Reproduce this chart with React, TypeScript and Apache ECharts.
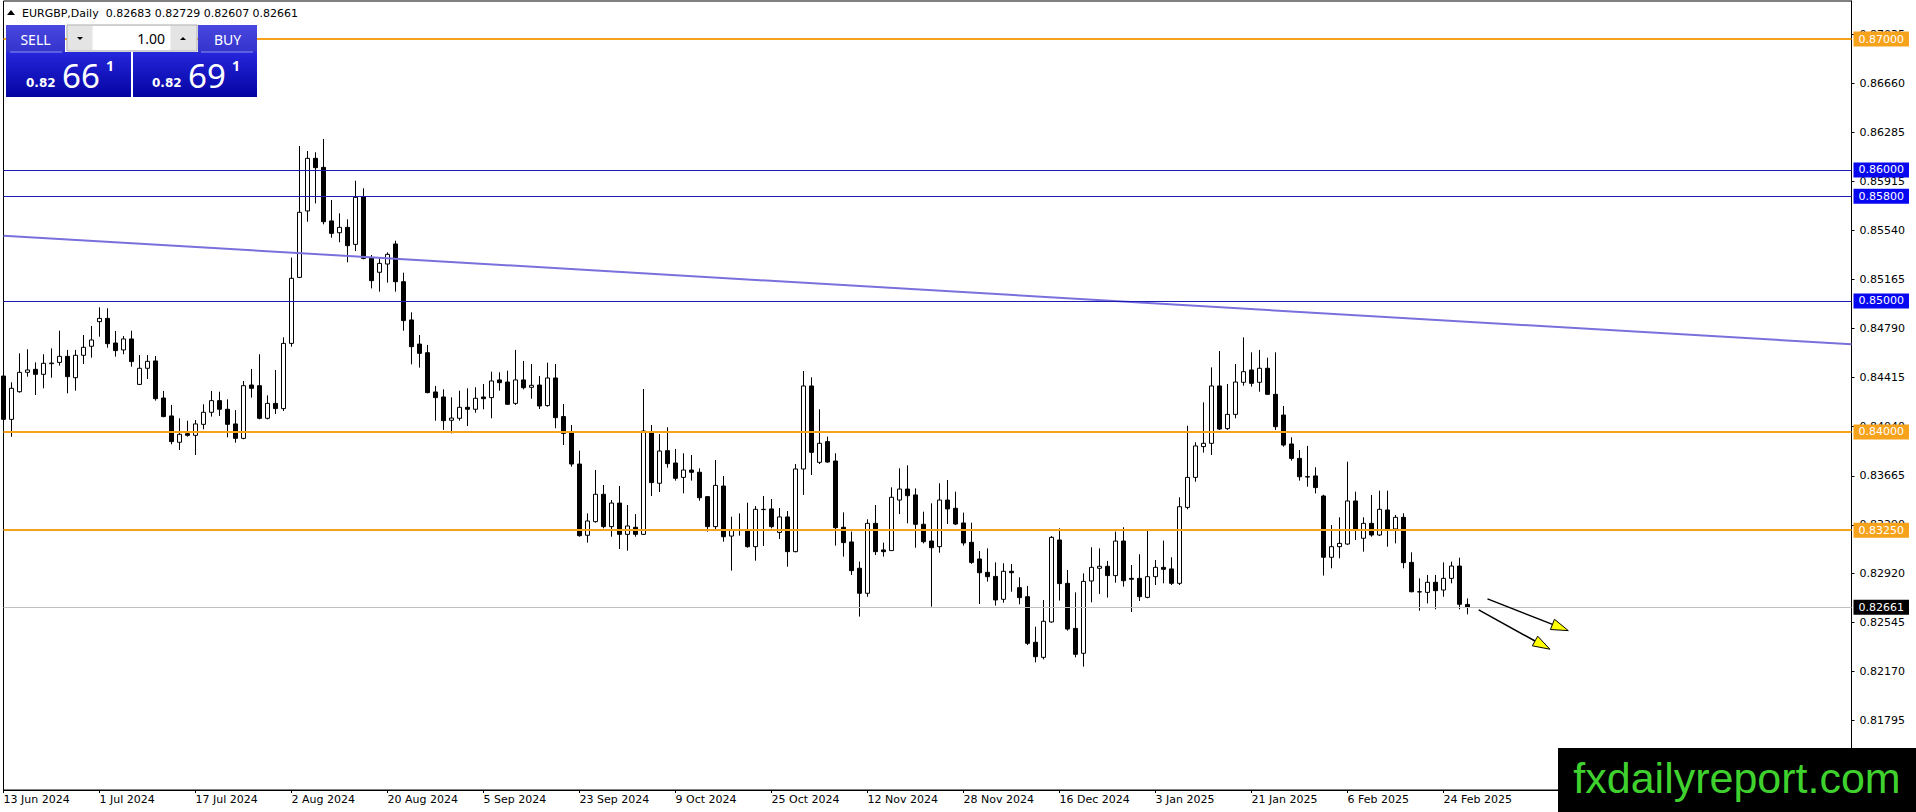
import React, { useEffect, useRef } from "react";
import * as echarts from "echarts";

// ---------------- data ----------------
const SYMBOL = "EURGBP";
const TIMEFRAME = "Daily";
const FIRST_TRADING_DAY = "2024-06-13";
const MARKET_HOLIDAYS = ["2024-12-25", "2025-01-01"];

const open = [
  0.84427, 0.84096, 0.84307, 0.84455, 0.84478, 0.8444, 0.84521, 0.84531, 0.84577, 0.84414, 0.84585, 0.84654,
  0.84842, 0.84867, 0.84679, 0.84626, 0.8471, 0.84363, 0.84486, 0.84542, 0.84259, 0.84122, 0.83921, 0.83987,
  0.83974, 0.84058, 0.8415, 0.84239, 0.84173, 0.84061, 0.83951, 0.84358, 0.84353, 0.84104, 0.84218, 0.84178,
  0.84676, 0.8518, 0.85687, 0.86089, 0.8602, 0.85611, 0.85521, 0.85562, 0.85432, 0.85796, 0.85331, 0.85219,
  0.85282, 0.85435, 0.85147, 0.84855, 0.84671, 0.84605, 0.84305, 0.84267, 0.84089, 0.84104, 0.84188, 0.84173,
  0.84267, 0.84262, 0.84397, 0.84381, 0.84218, 0.84397, 0.84341, 0.84358, 0.84201, 0.84412, 0.84117, 0.83994,
  0.83755, 0.83211, 0.83315, 0.83524, 0.83277, 0.83457, 0.83218, 0.83272, 0.83218, 0.84002, 0.83608, 0.83857,
  0.83763, 0.83653, 0.83709, 0.83692, 0.83506, 0.83277, 0.83587, 0.83205, 0.83249, 0.83244, 0.83124, 0.83407,
  0.83412, 0.83233, 0.83351, 0.83086, 0.83717, 0.84351, 0.83768, 0.83926, 0.83778, 0.83272, 0.8316, 0.82959,
  0.82768, 0.83302, 0.83099, 0.83094, 0.8348, 0.83564, 0.83519, 0.83295, 0.83167, 0.83124, 0.8348, 0.83417,
  0.83305, 0.83157, 0.8303, 0.82928, 0.82897, 0.82722, 0.82936, 0.82811, 0.82742, 0.82394, 0.82279, 0.82549,
  0.83175, 0.82844, 0.825, 0.8231, 0.82862, 0.82959, 0.82974, 0.82903, 0.83167, 0.82882, 0.82882, 0.82737,
  0.82895, 0.82966, 0.82954, 0.82844, 0.83424, 0.83653, 0.83888, 0.83913, 0.84351, 0.84025, 0.84134, 0.84379,
  0.84473, 0.84379, 0.84486, 0.84287, 0.84129, 0.83908, 0.83798, 0.83658, 0.83664, 0.83511, 0.83043, 0.83124,
  0.83144, 0.83473, 0.83188, 0.83302, 0.83213, 0.83404, 0.83259, 0.83348, 0.83004, 0.82778, 0.82775, 0.82852,
  0.82793, 0.82882, 0.82976, 0.82683,
];
const high = [
  0.84562, 0.84379, 0.846, 0.84631, 0.84531, 0.84593, 0.84638, 0.84773, 0.84626, 0.84626, 0.8474, 0.84809,
  0.84951, 0.84944, 0.84771, 0.84732, 0.84773, 0.84587, 0.84587, 0.8458, 0.84313, 0.84206, 0.84104, 0.84086,
  0.84091, 0.84211, 0.84313, 0.84307, 0.84249, 0.84167, 0.84389, 0.84481, 0.84593, 0.84279, 0.84473, 0.84722,
  0.85331, 0.86183, 0.86145, 0.86135, 0.86237, 0.85771, 0.85669, 0.85623, 0.85918, 0.8586, 0.85351, 0.85325,
  0.85371, 0.8546, 0.85216, 0.84913, 0.8474, 0.84664, 0.84351, 0.84325, 0.84264, 0.84315, 0.84333, 0.84341,
  0.84366, 0.8446, 0.84455, 0.84468, 0.84626, 0.84542, 0.84519, 0.84427, 0.84529, 0.84519, 0.84213, 0.84053,
  0.83857, 0.83378, 0.83709, 0.83595, 0.8348, 0.83587, 0.83442, 0.83373, 0.84328, 0.84053, 0.83984, 0.84035,
  0.8387, 0.83837, 0.83824, 0.83722, 0.83511, 0.83786, 0.83664, 0.83353, 0.83378, 0.8346, 0.83434, 0.83511,
  0.83488, 0.83419, 0.83396, 0.83755, 0.84465, 0.84417, 0.84173, 0.83964, 0.83837, 0.83386, 0.83239, 0.8301,
  0.83333, 0.83442, 0.83155, 0.83577, 0.83722, 0.83745, 0.83569, 0.83391, 0.83455, 0.83608, 0.83633, 0.83544,
  0.83384, 0.83307, 0.83091, 0.83111, 0.83004, 0.82997, 0.82992, 0.8289, 0.82824, 0.82513, 0.82717, 0.83205,
  0.83264, 0.82946, 0.82775, 0.8292, 0.83119, 0.83111, 0.83015, 0.83239, 0.83272, 0.82984, 0.83066, 0.83244,
  0.83022, 0.8317, 0.83043, 0.83501, 0.84048, 0.83921, 0.84226, 0.84493, 0.84618, 0.84366, 0.84519, 0.84722,
  0.84608, 0.84626, 0.84567, 0.84608, 0.84198, 0.83959, 0.83862, 0.83893, 0.8373, 0.83521, 0.83289, 0.83348,
  0.83773, 0.83544, 0.83348, 0.83519, 0.83552, 0.83552, 0.83366, 0.83379, 0.83081, 0.82882, 0.82908, 0.82908,
  0.83004, 0.8301, 0.8304, 0.82729,
];
const low = [
  0.84091, 0.83964, 0.843, 0.84422, 0.84282, 0.84333, 0.84414, 0.84506, 0.84295, 0.84315, 0.84519, 0.84567,
  0.84727, 0.84643, 0.84575, 0.84593, 0.84498, 0.84358, 0.84404, 0.84239, 0.84112, 0.83905, 0.83862, 0.83964,
  0.83824, 0.8402, 0.84117, 0.84122, 0.83959, 0.83918, 0.83944, 0.84262, 0.84096, 0.84096, 0.84137, 0.8416,
  0.84651, 0.85178, 0.85605, 0.85745, 0.85585, 0.85483, 0.85448, 0.85295, 0.85381, 0.85318, 0.85096, 0.85071,
  0.8514, 0.85071, 0.84773, 0.84516, 0.84491, 0.84295, 0.84086, 0.84015, 0.83989, 0.84086, 0.84045, 0.84147,
  0.84173, 0.84104, 0.84315, 0.84206, 0.84206, 0.84325, 0.84254, 0.84175, 0.84193, 0.84028, 0.839, 0.83735,
  0.832, 0.83155, 0.83307, 0.83264, 0.832, 0.83106, 0.83093, 0.832, 0.83213, 0.83511, 0.83541, 0.83727,
  0.83628, 0.83531, 0.83628, 0.83475, 0.83239, 0.83256, 0.83162, 0.82941, 0.83208, 0.83116, 0.83017, 0.83129,
  0.83264, 0.83183, 0.82971, 0.83081, 0.83519, 0.83671, 0.83755, 0.83765, 0.83132, 0.83048, 0.82908, 0.8259,
  0.82742, 0.8306, 0.83048, 0.83094, 0.83373, 0.83302, 0.83116, 0.83149, 0.82666, 0.83078, 0.83297, 0.83289,
  0.83132, 0.82992, 0.82686, 0.82857, 0.82674, 0.82696, 0.8278, 0.82684, 0.82373, 0.82241, 0.82264, 0.82544,
  0.82712, 0.82483, 0.82279, 0.82208, 0.82699, 0.82763, 0.82735, 0.82849, 0.82819, 0.82625, 0.82709, 0.8273,
  0.82831, 0.82844, 0.82831, 0.82831, 0.83409, 0.8362, 0.83842, 0.83824, 0.84015, 0.84015, 0.84104, 0.84353,
  0.84346, 0.84307, 0.84282, 0.84015, 0.83888, 0.83781, 0.83628, 0.83582, 0.83531, 0.82903, 0.82959, 0.83035,
  0.83137, 0.83175, 0.83086, 0.832, 0.83205, 0.83124, 0.83149, 0.82959, 0.82775, 0.82635, 0.82691, 0.82646,
  0.82742, 0.82844, 0.82646, 0.82607,
];
const close = [
  0.84096, 0.84333, 0.84455, 0.84473, 0.8444, 0.84524, 0.84526, 0.84577, 0.84422, 0.84585, 0.84646, 0.84702,
  0.84867, 0.84674, 0.84621, 0.8471, 0.84537, 0.84486, 0.84539, 0.84254, 0.84117, 0.83926, 0.83982, 0.83974,
  0.84061, 0.8415, 0.84239, 0.84173, 0.84058, 0.83951, 0.84353, 0.84333, 0.84104, 0.84218, 0.84178, 0.84676,
  0.85173, 0.85677, 0.86089, 0.86018, 0.85605, 0.85516, 0.85562, 0.85422, 0.85791, 0.85325, 0.85155, 0.85287,
  0.85356, 0.85147, 0.8485, 0.84651, 0.846, 0.843, 0.84262, 0.84086, 0.84106, 0.84188, 0.84173, 0.84257,
  0.84254, 0.84389, 0.84376, 0.84211, 0.84397, 0.84338, 0.84356, 0.84198, 0.84412, 0.84109, 0.83989, 0.83755,
  0.83208, 0.8332, 0.83524, 0.83277, 0.83457, 0.83218, 0.83282, 0.83218, 0.84007, 0.83613, 0.83854, 0.83758,
  0.83646, 0.83709, 0.83692, 0.83498, 0.83277, 0.83592, 0.832, 0.83251, 0.83251, 0.83124, 0.83409, 0.83409,
  0.83277, 0.83351, 0.83086, 0.83717, 0.84351, 0.83844, 0.83913, 0.8377, 0.83269, 0.83155, 0.82941, 0.82768,
  0.83302, 0.83086, 0.83086, 0.83501, 0.83564, 0.83513, 0.83295, 0.83162, 0.83116, 0.8348, 0.83412, 0.83297,
  0.83152, 0.83004, 0.82925, 0.82895, 0.82717, 0.82936, 0.82925, 0.82735, 0.82386, 0.82284, 0.82554, 0.83195,
  0.82842, 0.82495, 0.82302, 0.82859, 0.82966, 0.82974, 0.82903, 0.83167, 0.82864, 0.82875, 0.82742, 0.82895,
  0.82966, 0.82951, 0.82844, 0.83429, 0.83653, 0.83893, 0.83913, 0.84351, 0.84022, 0.84134, 0.84381, 0.8446,
  0.84371, 0.84486, 0.84287, 0.8404, 0.839, 0.83798, 0.83658, 0.83656, 0.83575, 0.83043, 0.83124, 0.83149,
  0.83473, 0.83259, 0.83302, 0.83213, 0.83409, 0.83259, 0.83348, 0.83002, 0.8278, 0.8278, 0.82852, 0.82788,
  0.82882, 0.82976, 0.82684, 0.82661,
];

const bidPrice = 0.82661;
const askPrice = 0.82691;
const lotSize = "1.00";

const yTickValues = [
  0.81795, 0.8217, 0.82545, 0.8292, 0.8329, 0.83665, 0.8404, 0.84415, 0.8479, 0.85165, 0.8554, 0.85915, 0.86285,
  0.8666, 0.87035,
];
const orangeLevels = [0.87, 0.84, 0.8325];
const blueLevels = [0.86, 0.858, 0.85];
const trendLinePoints = [
  [0, 0.85498],
  [231, 0.84669],
];
const arrowSegments = [
  { from: [185.5, 0.82725], to: [195.6, 0.82483] },
  { from: [184.4, 0.82641], to: [193.3, 0.82341] },
];
const watermarkText = "fxdailyreport.com";

// ---------------- layout / style ----------------
const W = 1916;
const H = 812;
const GRID_LEFT = 3.5;
const GRID_TOP = 1;
const GRID_WIDTH = 1848;
const GRID_HEIGHT = 789;
const SLOTS = 232;
const Y_MIN = 0.812661;
const Y_MAX = 0.872902;
const LABEL_EVERY = 12;
const FONT = '"DejaVu Sans", Verdana, sans-serif';
const PANEL_FONT = '"Noto Sans", "Open Sans", sans-serif';
const ORANGE = "#f7a21b";
const BLUE_LINE = "#1c1cb4";
const BLUE_LABEL = "#0808f0";
const TREND = "#7a70dc";

const MONTHS = ["Jan", "Feb", "Mar", "Apr", "May", "Jun", "Jul", "Aug", "Sep", "Oct", "Nov", "Dec"];

function tradingDays(first: string, count: number, holidays: string[]) {
  const out: string[] = [];
  const d = new Date(first + "T00:00:00Z");
  while (out.length < count) {
    const wd = d.getUTCDay();
    const iso = d.toISOString().slice(0, 10);
    if (wd !== 0 && wd !== 6 && holidays.indexOf(iso) < 0) out.push(iso);
    d.setUTCDate(d.getUTCDate() + 1);
  }
  return out;
}

const dates = tradingDays(FIRST_TRADING_DAY, open.length, MARKET_HOLIDAYS);
const categories = [...dates, ...Array.from({ length: SLOTS - dates.length }, (_, i) => `future-${i + 1}`)];
const fmtDate = (iso: string) => {
  if (iso.indexOf("future") === 0) return "";
  const [y, m, d] = iso.split("-");
  return `${+d} ${MONTHS[+m - 1]} ${y}`;
};
const showLabel = (index: number) => index % LABEL_EVERY === 0 && index < dates.length;

const levelLabel = (value: number, bg: string) => ({
  show: true,
  position: "end",
  formatter: value.toFixed(5),
  color: "#fff",
  backgroundColor: bg,
  padding: [1, 5, 1, 5],
  fontFamily: FONT,
  fontSize: 11,
  lineHeight: 13,
  distance: 2,
});

function buildOption() {
  const last = close.length - 1;
  const candles = open.map((o, i) => [o, close[i], low[i], high[i]]);
  return {
    animation: false,
    backgroundColor: "#fff",
    textStyle: { fontFamily: FONT },
    grid: {
      left: GRID_LEFT,
      top: GRID_TOP,
      width: GRID_WIDTH,
      height: GRID_HEIGHT,
      show: true,
      borderColor: "#000",
      borderWidth: 1,
      backgroundColor: "#fff",
    },
    xAxis: {
      type: "category",
      data: categories,
      boundaryGap: false,
      axisLine: { show: true, lineStyle: { color: "#000", width: 1 } },
      axisTick: { show: true, interval: showLabel, length: 3, lineStyle: { color: "#000" } },
      axisLabel: {
        interval: showLabel,
        formatter: (v: string) => fmtDate(v),
        align: "left",
        margin: 4,
        color: "#000",
        fontFamily: FONT,
        fontSize: 11,
      },
      splitLine: { show: false },
    },
    yAxis: {
      type: "value",
      position: "right",
      min: Y_MIN,
      max: Y_MAX,
      axisLine: { show: true, lineStyle: { color: "#000", width: 1 } },
      axisTick: { show: true, length: 3, customValues: yTickValues, lineStyle: { color: "#000" } },
      axisLabel: {
        customValues: yTickValues,
        formatter: (v: number) => v.toFixed(5),
        margin: 8,
        color: "#000",
        fontFamily: FONT,
        fontSize: 11,
      },
      splitLine: { show: false },
    },
    series: [
      {
        type: "candlestick",
        data: candles,
        barWidth: 4,
        clip: true,
        itemStyle: {
          color: "#ffffff",
          color0: "#000000",
          borderColor: "#000000",
          borderColor0: "#000000",
          borderWidth: 1,
        },
        markLine: {
          silent: true,
          animation: false,
          precision: 5,
          symbol: ["none", "none"],
          data: [
            [
              { coord: trendLinePoints[0], lineStyle: { color: TREND, width: 2, type: "solid" }, label: { show: false } },
              { coord: trendLinePoints[1] },
            ],
            ...blueLevels.map((v) => ({
              yAxis: v,
              lineStyle: { color: BLUE_LINE, width: 1, type: "solid" },
              label: levelLabel(v, BLUE_LABEL),
            })),
            ...orangeLevels.map((v) => ({
              yAxis: v,
              lineStyle: { color: ORANGE, width: 2, type: "solid" },
              label: levelLabel(v, ORANGE),
            })),
            {
              yAxis: close[last],
              lineStyle: { color: "#c0c0c0", width: 1, type: "solid" },
              label: levelLabel(close[last], "#000"),
            },
          ],
        },
      },
    ],
  };
}

function priceParts(p: number) {
  const s = p.toFixed(5);
  return { head: s.slice(0, 4), big: s.slice(4, 6), pip: s.slice(6) };
}

function buildGraphics(chart: any) {
  const x0 = chart.convertToPixel({ xAxisIndex: 0 }, 0);
  const x1 = chart.convertToPixel({ xAxisIndex: 0 }, SLOTS - 1);
  const px = (i: number) => x0 + ((x1 - x0) * i) / (SLOTS - 1);
  const py = (v: number) => chart.convertToPixel({ yAxisIndex: 0 }, v);
  const els: any[] = [];
  const Z = 100;

  // arrows
  arrowSegments.forEach((a) => {
    const sx = px(a.from[0]);
    const sy = py(a.from[1]);
    const tx = px(a.to[0]);
    const ty = py(a.to[1]);
    const len = Math.hypot(tx - sx, ty - sy);
    const ux = (tx - sx) / len;
    const uy = (ty - sy) / len;
    const bx = tx - ux * 17;
    const by = ty - uy * 17;
    const hw = 5.5;
    els.push({
      type: "line",
      z: Z,
      shape: { x1: sx, y1: sy, x2: bx, y2: by },
      style: { stroke: "#000", lineWidth: 1.5 },
    });
    els.push({
      type: "polygon",
      z: Z,
      shape: {
        points: [
          [tx, ty],
          [bx - uy * hw, by + ux * hw],
          [bx + uy * hw, by - ux * hw],
        ],
      },
      style: { fill: "#ffff00", stroke: "#000", lineWidth: 1 },
    });
  });

  // header
  const li = close.length - 1;
  els.push({
    type: "polygon",
    z: Z,
    shape: { points: [[7, 15], [15, 15], [11, 10]] },
    style: { fill: "#000" },
  });
  els.push({
    type: "text",
    z: Z,
    x: 22,
    y: 13,
    style: {
      text: `${SYMBOL},${TIMEFRAME}\u00a0 ${open[li].toFixed(5)} ${high[li].toFixed(5)} ${low[li].toFixed(5)} ${close[li].toFixed(5)}`,
      font: `11px ${FONT}`,
      fill: "#000",
      textAlign: "left",
      textVerticalAlign: "middle",
    },
  });

  // trade panel
  const btnGrad = () =>
    new echarts.graphic.LinearGradient(0, 0, 0, 1, [
      { offset: 0, color: "#4848e0" },
      { offset: 1, color: "#3434cc" },
    ]);
  const boxGrad = () =>
    new echarts.graphic.LinearGradient(0, 0, 0, 1, [
      { offset: 0, color: "#2626dc" },
      { offset: 1, color: "#0404a2" },
    ]);
  const sides = [
    { label: "SELL", btnX: 6, btnW: 59, boxX: 6, boxW: 125, price: bidPrice, headX: 26, bigX: 62, pipX: 106, sepX: [10, 62] },
    { label: "BUY", btnX: 198, btnW: 59, boxX: 133, boxW: 124, price: askPrice, headX: 152, bigX: 188, pipX: 232, sepX: [201, 253] },
  ];
  sides.forEach((s) => {
    const pp = priceParts(s.price);
    els.push({ type: "rect", z: Z, shape: { x: s.btnX, y: 25, width: s.btnW, height: 27 }, style: { fill: btnGrad() } });
    els.push({ type: "rect", z: Z, shape: { x: s.boxX, y: 52, width: s.boxW, height: 45 }, style: { fill: boxGrad() } });
    els.push({
      type: "line",
      z: Z + 1,
      shape: { x1: s.sepX[0], y1: 52, x2: s.sepX[1], y2: 52 },
      style: { stroke: "#8c92ec", lineWidth: 1 },
    });
    els.push({
      type: "text",
      z: Z + 1,
      x: s.btnX + s.btnW / 2,
      y: 39,
      style: { text: s.label, font: `14px ${PANEL_FONT}`, fill: "#fff", textAlign: "center", textVerticalAlign: "middle" },
    });
    els.push({
      type: "text",
      z: Z + 1,
      x: s.headX,
      y: 83,
      style: { text: pp.head, font: `bold 12px ${FONT}`, fill: "#fff", textAlign: "left", textVerticalAlign: "middle" },
    });
    els.push({
      type: "text",
      z: Z + 1,
      x: s.bigX,
      y: 75,
      style: { text: pp.big, font: `33px ${PANEL_FONT}`, fill: "#fff", textAlign: "left", textVerticalAlign: "middle" },
    });
    els.push({
      type: "text",
      z: Z + 1,
      x: s.pipX,
      y: 65,
      style: { text: pp.pip, font: `bold 14px ${PANEL_FONT}`, fill: "#fff", textAlign: "left", textVerticalAlign: "middle" },
    });
  });
  // lot spinner
  els.push({ type: "rect", z: Z, shape: { x: 67, y: 25, width: 130, height: 26 }, style: { fill: "#f0f0f0", stroke: "#a8a8a8", lineWidth: 1 } });
  els.push({ type: "rect", z: Z, shape: { x: 68, y: 26, width: 24, height: 24 }, style: { fill: "#e4e4e4" } });
  els.push({ type: "rect", z: Z, shape: { x: 93, y: 26, width: 77, height: 24 }, style: { fill: "#ffffff" } });
  els.push({ type: "rect", z: Z, shape: { x: 171, y: 26, width: 25, height: 24 }, style: { fill: "#e4e4e4" } });
  els.push({ type: "polygon", z: Z + 1, shape: { points: [[77, 37], [83, 37], [80, 40]] }, style: { fill: "#000" } });
  els.push({ type: "polygon", z: Z + 1, shape: { points: [[180, 40], [186, 40], [183, 37]] }, style: { fill: "#000" } });
  els.push({
    type: "text",
    z: Z + 1,
    x: 165,
    y: 38,
    style: { text: lotSize, font: `14px ${PANEL_FONT}`, fill: "#000", textAlign: "right", textVerticalAlign: "middle" },
  });

  // watermark
  els.push({ type: "rect", z: Z + 5, shape: { x: 1558, y: 748, width: 358, height: 64 }, style: { fill: "#000" } });
  els.push({
    type: "text",
    z: Z + 6,
    x: 1737,
    y: 778,
    style: {
      text: watermarkText,
      font: `43px "Liberation Sans", Arial, sans-serif`,
      fill: "#3fd22e",
      textAlign: "center",
      textVerticalAlign: "middle",
    },
  });
  return els;
}

export default function App() {
  const ref = useRef<HTMLDivElement>(null);
  useEffect(() => {
    const el = ref.current;
    if (!el) return;
    const chart = echarts.init(el, null, { renderer: "svg" });
    chart.setOption(buildOption() as any);
    chart.setOption({ graphic: buildGraphics(chart) } as any);
    return () => chart.dispose();
  }, []);
  return (
    <div
      ref={ref}
      style={{ position: "fixed", left: 0, top: 0, width: W, height: H, background: "#fff" }}
    />
  );
}
